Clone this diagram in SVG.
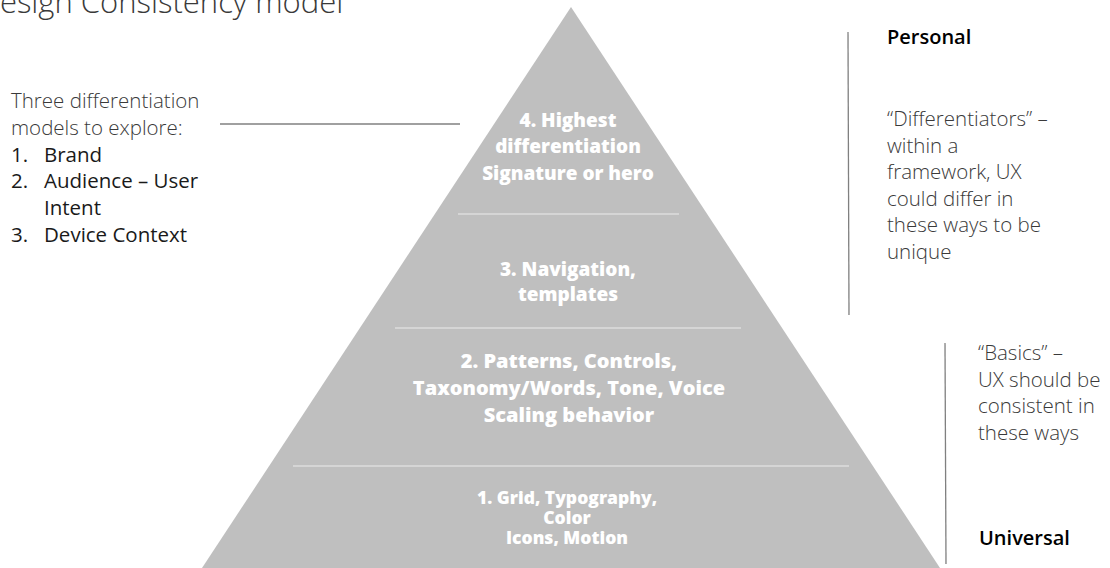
<svg xmlns="http://www.w3.org/2000/svg" width="1110" height="568" viewBox="0 0 1110 568">
<style>
.light{font-family:"Open Sans","Liberation Sans",sans-serif;font-weight:300;fill:#3a3a3a;}
.reg{font-family:"Open Sans","Liberation Sans",sans-serif;font-weight:400;fill:#1a1a1a;}
.head{font-family:"Open Sans","Liberation Sans",sans-serif;font-weight:600;fill:#000;font-size:20px;}
.pyr{font-family:"Open Sans","Liberation Sans",sans-serif;font-weight:800;fill:#fff;text-anchor:middle;}
.div{stroke:#dcdcdc;stroke-width:1.5;}
.rule{stroke:#808080;stroke-width:1.3;fill:none;}
</style>
<rect width="1110" height="568" fill="#fff"/>
<text class="light" x="-22" y="13" font-size="31">Design Consistency model</text>

<g id="pyramid">
<polygon points="571,7 202,568 940,568" fill="#bfbfbf"/>
<line class="div" x1="458" y1="214" x2="679" y2="214"/>
<line class="div" x1="395" y1="328" x2="741" y2="328"/>
<line class="div" x1="293" y1="466" x2="849" y2="466"/>
</g>

<g id="level4" class="pyr" font-size="19">
<text class="pyr" x="568" y="127">4. Highest</text>
<text class="pyr" x="568" y="153">differentiation</text>
<text class="pyr" x="568" y="180">Signature or hero</text>
</g>
<g id="level3" font-size="19">
<text class="pyr" x="568" y="276">3. Navigation,</text>
<text class="pyr" x="568" y="301">templates</text>
</g>
<g id="level2" font-size="20">
<text class="pyr" x="569" y="368">2. Patterns, Controls,</text>
<text class="pyr" x="569" y="395">Taxonomy/Words, Tone, Voice</text>
<text class="pyr" x="569" y="422">Scaling behavior</text>
</g>
<g id="level1" font-size="17.5">
<text class="pyr" x="567" y="504">1. Grid, Typography,</text>
<text class="pyr" x="567" y="524">Color</text>
<text class="pyr" x="567" y="544">Icons, Motion</text>
</g>

<g id="left-note" font-size="20.5">
<text class="light" x="11" y="108">Three differentiation</text>
<text class="light" x="11" y="135">models to explore:</text>
<text class="reg"><tspan x="11" y="162">1.</tspan><tspan x="44" y="162">Brand</tspan></text>
<text class="reg"><tspan x="11" y="188">2.</tspan><tspan x="44" y="188">Audience – User</tspan></text>
<text class="reg" x="44" y="215">Intent</text>
<text class="reg"><tspan x="11" y="242">3.</tspan><tspan x="44" y="242">Device Context</tspan></text>
</g>

<g id="right-personal">
<text class="head" x="887" y="44">Personal</text>
<text class="light" font-size="20.5">
<tspan x="887" y="126">“Differentiators” –</tspan>
<tspan x="887" y="152.5">within a</tspan>
<tspan x="887" y="179">framework, UX</tspan>
<tspan x="887" y="205.5">could differ in</tspan>
<tspan x="887" y="232">these ways to be</tspan>
<tspan x="887" y="258.5">unique</tspan>
</text>
</g>

<g id="right-universal">
<text class="light" font-size="20.5">
<tspan x="978" y="360">“Basics” –</tspan>
<tspan x="978" y="387">UX should be</tspan>
<tspan x="978" y="413">consistent in</tspan>
<tspan x="978" y="440">these ways</tspan>
</text>
<text class="head" x="979" y="545">Universal</text>
</g>

<g id="connectors">
<line class="rule" x1="220" y1="124" x2="460" y2="124"/>
<line class="rule" x1="848" y1="32" x2="849" y2="315"/>
<line class="rule" x1="945" y1="343" x2="946" y2="564"/>
</g>
</svg>
